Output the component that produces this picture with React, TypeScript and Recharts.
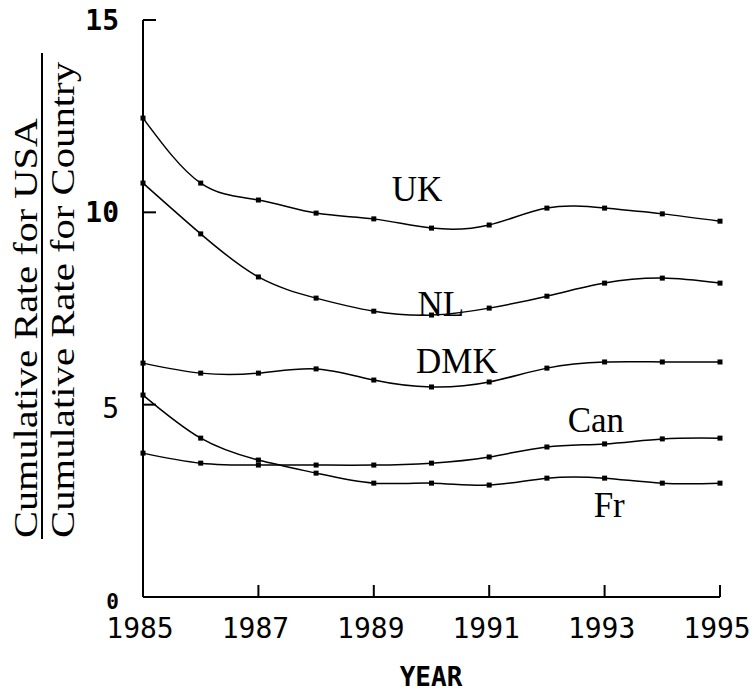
import { LineChart, Line, XAxis, YAxis, ReferenceDot } from "recharts";

const years = [1985, 1986, 1987, 1988, 1989, 1990, 1991, 1992, 1993, 1994, 1995];
const uk = [12.45, 10.76, 10.32, 9.98, 9.83, 9.59, 9.67, 10.11, 10.11, 9.96, 9.77];
const nl = [10.76, 9.44, 8.32, 7.77, 7.43, 7.33, 7.51, 7.82, 8.16, 8.29, 8.16];
const dmk = [6.08, 5.82, 5.82, 5.93, 5.64, 5.46, 5.59, 5.95, 6.11, 6.11, 6.11];
const can = [3.74, 3.48, 3.43, 3.43, 3.43, 3.48, 3.64, 3.9, 3.98, 4.11, 4.13];
const fr = [5.25, 4.13, 3.56, 3.22, 2.96, 2.96, 2.91, 3.09, 3.09, 2.96, 2.96];

const xTicks = [1985, 1987, 1989, 1991, 1993, 1995];
const yTicks = [0, 5, 10, 15];

// where each country name sits (data coords: year, value at text baseline)
const seriesLabels = [
    { name: "UK", year: 1989.75, value: 10.29 },
    { name: "NL", year: 1990.16, value: 7.3 },
    { name: "DMK", year: 1990.44, value: 5.82 },
    { name: "Can", year: 1992.85, value: 4.29 },
    { name: "Fr", year: 1993.08, value: 2.08 },
];

const seriesKeys = ["uk", "nl", "dmk", "can", "fr"];

const data = years.map((year, i) => ({
    year,
    uk: uk[i],
    nl: nl[i],
    dmk: dmk[i],
    can: can[i],
    fr: fr[i],
}));

const monoFont = "'DejaVu Sans Mono', monospace";
const serifFont = "'Liberation Serif', 'Times New Roman', serif";

function SquareDot(props: any) {
    const { cx, cy, index } = props;
    if (cx == null || cy == null) return null;
    return <rect key={`d-${index}`} x={cx - 2.5} y={cy - 2.5} width={5} height={5} fill="#000" />;
}

// tick lines point inward (tickSize < 0), so the label is pushed back out here
function XTick(props: any) {
    const { x, y, payload } = props;
    return (
        <text x={x - 3} y={y + 53} textAnchor="middle" fontFamily={monoFont} fontSize={28} fill="#000">
            {payload.value}
        </text>
    );
}

function YTick(props: any) {
    const { x, y, payload } = props;
    const v = payload.value;
    const small = v === 0;
    return (
        <text
            x={x - 13 - 24}
            y={y + (small ? 12 : v === 5 ? 13 : 10)}
            textAnchor="end"
            fontFamily={monoFont}
            fontWeight={v === 5 ? "normal" : "bold"}
            fontSize={small ? 21 : 28}
            fill="#000"
        >
            {v}
        </text>
    );
}

export default function App() {
    return (
        <div style={{ position: "absolute", left: 0, top: 0, width: 755, height: 697, background: "#fff" }}>
            <LineChart width={755} height={697} data={data} margin={{ top: 20, right: 35, bottom: 70, left: 83 }}>
                <XAxis
                    dataKey="year"
                    type="number"
                    domain={[1985, 1995]}
                    ticks={xTicks}
                    interval={0}
                    height={30}
                    tickSize={-12}
                    tickMargin={0}
                    tickLine={{ stroke: "#000", strokeWidth: 2 }}
                    axisLine={{ stroke: "#000", strokeWidth: 2 }}
                    tick={<XTick />}
                />
                <YAxis
                    type="number"
                    domain={[0, 15]}
                    ticks={yTicks}
                    interval={0}
                    width={60}
                    tickSize={-13}
                    tickMargin={0}
                    tickLine={{ stroke: "#000", strokeWidth: 2 }}
                    axisLine={{ stroke: "#000", strokeWidth: 2 }}
                    tick={<YTick />}
                />
                {seriesKeys.map((k) => (
                    <Line
                        key={k}
                        dataKey={k}
                        type="natural"
                        stroke="#000"
                        strokeWidth={1.5}
                        dot={<SquareDot />}
                        activeDot={false}
                        isAnimationActive={false}
                    />
                ))}
                {seriesLabels.map((l) => (
                    <ReferenceDot
                        key={l.name}
                        x={l.year}
                        y={l.value}
                        r={0}
                        shape={(p: any) => (
                            <text x={p.cx} y={p.cy} textAnchor="middle" fontFamily={serifFont} fontSize={35} fill="#000">
                                {l.name}
                            </text>
                        )}
                    />
                ))}
            </LineChart>
            {/* y axis title, written as a fraction */}
            <svg width={100} height={697} style={{ position: "absolute", left: 0, top: 0 }}>
                <text
                    x={37}
                    y={538}
                    transform="rotate(-90 37 538)"
                    fontFamily={serifFont}
                    fontSize={34}
                    textLength={420}
                    lengthAdjust="spacingAndGlyphs"
                    fill="#000"
                >
                    Cumulative Rate for USA
                </text>
                <line x1={42} y1={53} x2={42} y2={539} stroke="#000" strokeWidth={2} />
                <text
                    x={74}
                    y={538}
                    transform="rotate(-90 74 538)"
                    fontFamily={serifFont}
                    fontSize={34}
                    textLength={476}
                    lengthAdjust="spacingAndGlyphs"
                    fill="#000"
                >
                    Cumulative Rate for Country
                </text>
            </svg>
            <div
                style={{
                    position: "absolute",
                    left: 0,
                    top: 664,
                    width: 862,
                    textAlign: "center",
                    fontFamily: monoFont,
                    fontWeight: "bold",
                    fontSize: 26,
                    lineHeight: "26px",
                }}
            >
                YEAR
            </div>
        </div>
    );
}
